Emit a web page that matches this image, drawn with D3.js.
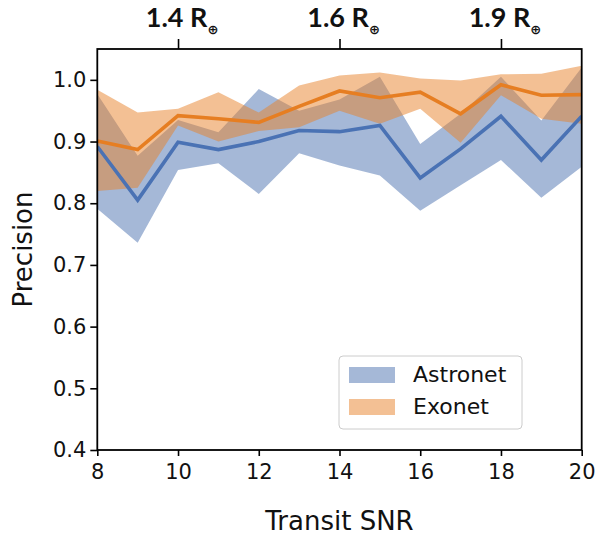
<!DOCTYPE html>
<html><head><meta charset="utf-8">
<script src="https://cdn.jsdelivr.net/npm/d3@7"></script>
<style>body{margin:0;background:#fff}</style>
</head><body><svg id="c" width="596" height="535"></svg>
<script>
const snr = [8, 9, 10, 11, 12, 13, 14, 15, 16, 17, 18, 19, 20];
const astronetMean  = [0.892, 0.805, 0.899, 0.887, 0.900, 0.918, 0.916, 0.926, 0.841, 0.888, 0.941, 0.870, 0.941];
const astronetUpper = [0.977, 0.877, 0.935, 0.915, 0.985, 0.950, 0.968, 1.005, 0.896, 0.945, 1.005, 0.934, 1.020];
const astronetLower = [0.791, 0.736, 0.854, 0.865, 0.815, 0.881, 0.861, 0.845, 0.788, 0.829, 0.870, 0.809, 0.859];
const exonetMean  = [0.901, 0.887, 0.942, 0.937, 0.931, 0.957, 0.982, 0.971, 0.980, 0.945, 0.992, 0.975, 0.976];
const exonetUpper = [0.984, 0.947, 0.953, 0.980, 0.947, 0.991, 1.007, 1.012, 1.002, 0.999, 1.009, 1.010, 1.023];
const exonetLower = [0.820, 0.825, 0.926, 0.900, 0.917, 0.923, 0.950, 0.929, 0.953, 0.898, 0.975, 0.937, 0.929];
const xTicks = [8, 10, 12, 14, 16, 18, 20];
const yTicks = [0.4, 0.5, 0.6, 0.7, 0.8, 0.9, 1.0];
const topTicks = [10, 14, 18];
const topLabels = ["1.4", "1.6", "1.9"];
const seriesNames = ["Astronet", "Exonet"];

const svg = d3.select("#c");
const X0 = 97.3, X1 = 581.7, Y0 = 450, Y1 = 49;
const x = d3.scaleLinear().domain([8, 20]).range([X0, X1]);
const y = d3.scaleLinear().domain([0.4, 1.05]).range([Y0, Y1]);

const blue = "#4c72b0", orange = "#e8822a";
const blueLine = "#4a72b4", orangeLine = "#e67e22";

svg.append("clipPath").attr("id", "clip").append("rect")
  .attr("x", X0).attr("y", Y1).attr("width", X1 - X0).attr("height", Y0 - Y1);
const g = svg.append("g").attr("clip-path", "url(#clip)");

function band(lo, hi) {
  return d3.area().x((d, i) => x(snr[i])).y0((d, i) => y(lo[i])).y1((d, i) => y(hi[i]))(snr);
}
function line(v) {
  return d3.line().x((d, i) => x(snr[i])).y((d, i) => y(v[i]))(snr);
}
g.append("path").attr("d", band(astronetLower, astronetUpper)).attr("fill", blue).attr("fill-opacity", 0.5);
g.append("path").attr("d", band(exonetLower, exonetUpper)).attr("fill", orange).attr("fill-opacity", 0.5);
g.append("path").attr("d", line(astronetMean)).attr("fill", "none").attr("stroke", blueLine).attr("stroke-width", 3.6).attr("stroke-linejoin", "miter");
g.append("path").attr("d", line(exonetMean)).attr("fill", "none").attr("stroke", orangeLine).attr("stroke-width", 3.6).attr("stroke-linejoin", "miter");

const font = "DejaVu Sans, sans-serif";
const xa = svg.append("g").attr("transform", `translate(0,${Y0})`)
  .call(d3.axisBottom(x).tickValues(xTicks).tickFormat(d3.format("d")).tickSize(6).tickPadding(8));
const ya = svg.append("g").attr("transform", `translate(${X0},0)`)
  .call(d3.axisLeft(y).tickValues(yTicks).tickFormat(d3.format(".1f")).tickSize(7).tickPadding(4));
const ta = svg.append("g").attr("transform", `translate(0,${Y1})`)
  .call(d3.axisTop(x).tickValues(topTicks).tickFormat("").tickSize(10));
[xa, ya, ta].forEach(a => {
  a.select(".domain").remove();
  a.selectAll("line").attr("stroke", "#000").attr("stroke-width", 1.6);
  a.selectAll("text").attr("font-family", font).attr("font-size", 21).attr("fill", "#111");
});

const tl = svg.append("g");
topTicks.forEach((t, i) => {
  const txt = tl.append("text").attr("x", x(t) + 4).attr("y", 27).attr("text-anchor", "middle")
    .attr("font-family", "Lato, Carlito, sans-serif").attr("font-weight", "bold").attr("font-size", 27).attr("fill", "#111");
  txt.append("tspan").text(topLabels[i] + " R");
  txt.append("tspan").attr("dy", 7).attr("font-size", 13).attr("font-family", "DejaVu Sans, sans-serif").text("\u2295");
});

svg.append("rect").attr("x", X0).attr("y", Y1).attr("width", X1 - X0).attr("height", Y0 - Y1)
  .attr("fill", "none").attr("stroke", "#000").attr("stroke-width", 1.8);

svg.append("text").attr("x", (X0 + X1) / 2).attr("y", 530).attr("text-anchor", "middle")
  .attr("font-family", font).attr("font-size", 26).attr("fill", "#111").text("Transit SNR");
svg.append("text").attr("transform", `translate(32,${(Y0 + Y1) / 2}) rotate(-90)`).attr("text-anchor", "middle")
  .attr("font-family", font).attr("font-size", 26).attr("fill", "#111").text("Precision");

const lg = svg.append("g");
lg.append("rect").attr("x", 339).attr("y", 356).attr("width", 183).attr("height", 73).attr("rx", 4)
  .attr("fill", "#fff").attr("fill-opacity", 0.8).attr("stroke", "#ccc").attr("stroke-width", 1);
[blue, orange].forEach((c, i) => {
  lg.append("rect").attr("x", 349).attr("y", 367 + i * 32).attr("width", 46).attr("height", 16)
    .attr("fill", c).attr("fill-opacity", 0.5);
  lg.append("text").attr("x", 413).attr("y", 382 + i * 32).attr("font-family", font).attr("font-size", 22)
    .attr("fill", "#111").text(seriesNames[i]);
});
</script></body></html>
